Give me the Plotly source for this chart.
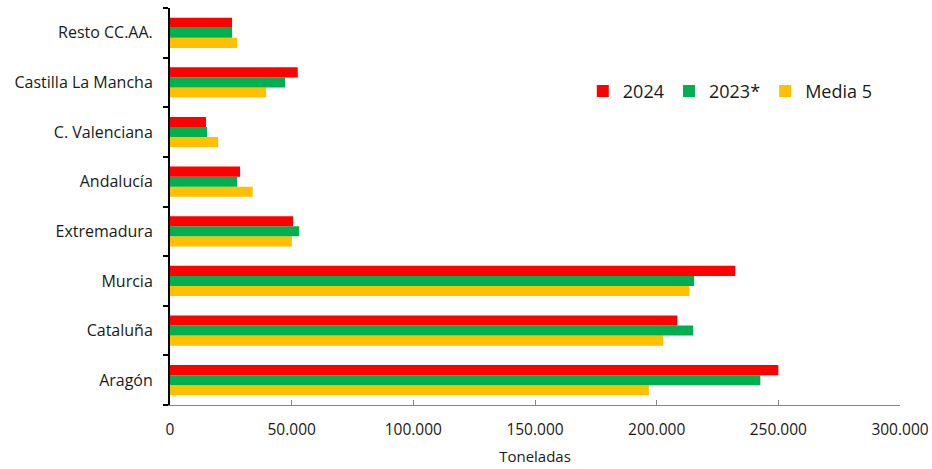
import plotly.graph_objects as go

categories = ["Aragón", "Cataluña", "Murcia", "Extremadura", "Andalucía",
              "C. Valenciana", "Castilla La Mancha", "Resto CC.AA."]
v2024 = [250000, 208500, 232300, 50600, 28800, 14800, 52500, 25500]
v2023 = [242600, 215000, 215400, 53100, 27600, 15200, 47300, 25500]
media5 = [196800, 202700, 213500, 50100, 34000, 19800, 39500, 27600]
x_ticks = [0, 50000, 100000, 150000, 200000, 250000, 300000]

fig = go.Figure()
fig.add_trace(go.Bar(y=categories, x=media5, name="Media 5", orientation="h",
                     marker=dict(color="#FFC000", line=dict(width=0)), legendrank=3))
fig.add_trace(go.Bar(y=categories, x=v2023, name="2023*", orientation="h",
                     marker=dict(color="#00B050", line=dict(width=0)), legendrank=2))
fig.add_trace(go.Bar(y=categories, x=v2024, name="2024", orientation="h",
                     marker=dict(color="#FF0000", line=dict(width=0)), legendrank=1))

fig.update_layout(
    width=932, height=469,
    margin=dict(l=170, r=32, t=8, b=64),
    paper_bgcolor="white", plot_bgcolor="white",
    barmode="group", bargap=0.39, bargroupgap=0,
    separators=",.",
    font=dict(family="Open Sans, sans-serif", size=15, color="#1a1a1a"),
    showlegend=True,
    legend=dict(orientation="h", x=0.5655, y=0.79, xanchor="left", yanchor="middle",
                font=dict(size=18, color="#1a1a1a"), bgcolor="rgba(0,0,0,0)",
                itemwidth=30, tracegroupgap=0),
    xaxis=dict(range=[0, 300000], tickvals=x_ticks, tickformat=",d",
               showgrid=False, zeroline=False, showline=True, linecolor="#868686",
               linewidth=1, ticks="inside", ticklen=5, tickcolor="#868686",
               automargin=False, tickfont=dict(size=15.5), ticklabelstandoff=10,
               title=dict(text="Toneladas", font=dict(size=15), standoff=12)),
    yaxis=dict(showgrid=False, zeroline=False, showline=True, linecolor="black",
               linewidth=2, ticks="outside", ticklen=5, tickcolor="black", tickwidth=2,
               tickson="boundaries", automargin=False, ticklabelstandoff=12,
               tickfont=dict(size=16)),
)

fig.write_html("out.html", config={"displayModeBar": False},
               post_script="document.body.style.margin='0';document.body.style.padding='0';")
